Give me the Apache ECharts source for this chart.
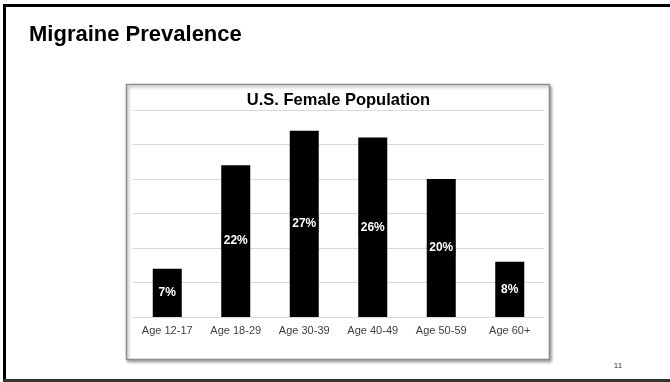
<!DOCTYPE html>
<html>
<head>
<meta charset="utf-8">
<style>
  html, body { margin: 0; padding: 0; background: #fff; }
  #chart { width: 670px; height: 382px; }
</style>
<script src="https://cdn.jsdelivr.net/npm/echarts@6/dist/echarts.min.js"></script>
</head>
<body>
<div id="chart"></div>
<script>
// Age groups and share of women with migraine (%)
const categories = ['Age 12-17', 'Age 18-29', 'Age 30-39', 'Age 40-49', 'Age 50-59', 'Age 60+'];
const prevalence = [7, 22, 27, 26, 20, 8];

const slideTitle = 'Migraine Prevalence';
const chartTitle = 'U.S. Female Population';
const pageNumber = '11';

const FONT = '"Liberation Sans", Arial, Helvetica, sans-serif';

const chart = echarts.init(document.getElementById('chart'), null, { renderer: 'canvas' });

chart.setOption({
  backgroundColor: '#ffffff',
  animation: false,
  textStyle: { fontFamily: FONT },
  grid: { left: 133, right: 126, top: 110, bottom: 65 },
  xAxis: {
    type: 'category',
    data: categories,
    axisLine: { show: true, lineStyle: { color: '#d9d9d9', width: 1 } },
    axisTick: { show: false },
    axisLabel: { color: '#404040', fontSize: 11, fontFamily: FONT, margin: 8 }
  },
  yAxis: {
    type: 'value',
    min: 0,
    max: 30,
    interval: 5,
    axisLine: { show: false },
    axisTick: { show: false },
    axisLabel: { show: false },
    splitLine: { lineStyle: { color: '#d9d9d9', width: 1 } }
  },
  series: [{
    type: 'bar',
    data: prevalence,
    barWidth: 29,
    itemStyle: { color: '#000000' },
    label: {
      show: true,
      position: 'inside',
      formatter: '{c}%',
      color: '#ffffff',
      fontWeight: 'bold',
      fontSize: 12,
      fontFamily: FONT,
      backgroundColor: '#000000',
      padding: [3, 2]
    }
  }],
  graphic: [
    // slide frame
    { type: 'rect', z: 0, silent: true,
      shape: { x: 3, y: 4, width: 700, height: 3 }, style: { fill: '#000' } },
    { type: 'rect', z: 0, silent: true,
      shape: { x: 3, y: 4, width: 3, height: 378 }, style: { fill: '#000' } },
    { type: 'rect', z: 0, silent: true,
      shape: { x: 3, y: 379, width: 700, height: 3 }, style: { fill: '#333' } },
    // chart panel with shadow
    { type: 'rect', z: -1, silent: true,
      shape: { x: 126.5, y: 84.5, width: 423, height: 275 },
      style: { fill: '#fff', stroke: '#8c8c8c', lineWidth: 1.5,
               shadowColor: 'rgba(0,0,0,0.35)', shadowBlur: 3, shadowOffsetX: 1.5, shadowOffsetY: 2 } },
    // slide heading
    { type: 'text', silent: true, x: 29, y: 35,
      style: { text: slideTitle, font: 'bold 22px ' + FONT, fill: '#000',
               textAlign: 'left', textVerticalAlign: 'middle' } },
    // chart heading
    { type: 'text', silent: true, x: 338.5, y: 100,
      style: { text: chartTitle, font: 'bold 16.5px ' + FONT, fill: '#000',
               textAlign: 'center', textVerticalAlign: 'middle' } },
    // page number
    { type: 'text', silent: true, x: 618, y: 366,
      style: { text: pageNumber, font: '8px ' + FONT, fill: '#333',
               textAlign: 'center', textVerticalAlign: 'middle' } }
  ]
});
</script>
</body>
</html>
